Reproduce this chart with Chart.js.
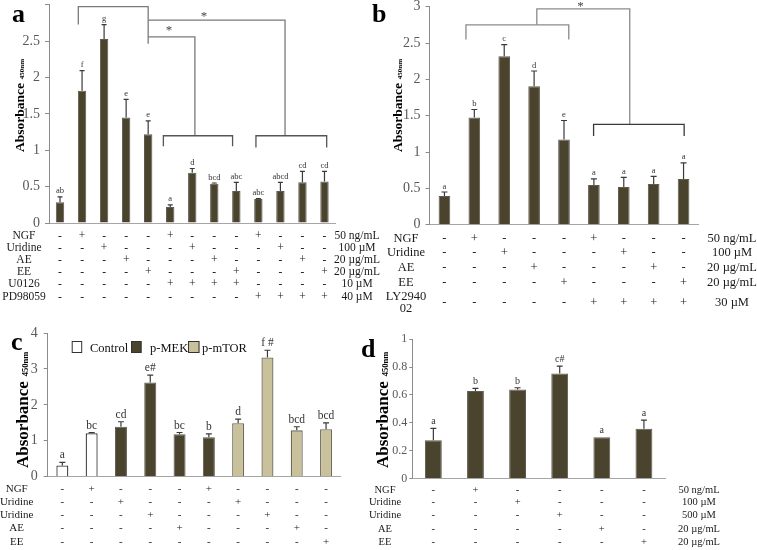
<!DOCTYPE html>
<html><head><meta charset="utf-8">
<script src="https://cdn.jsdelivr.net/npm/chart.js@4/dist/chart.umd.min.js"></script>
<style>
html,body{margin:0;padding:0;background:#fff;}
body{width:757px;height:550px;position:relative;overflow:hidden;}
.p{position:absolute;}
</style></head><body>
<div class="p" id="wa" style="left:0px;top:0px;width:380px;height:320px"><canvas id="ca"></canvas></div>
<div class="p" id="wb" style="left:365px;top:0px;width:392px;height:320px"><canvas id="cb"></canvas></div>
<div class="p" id="wc" style="left:0px;top:320px;width:355px;height:230px"><canvas id="cc"></canvas></div>
<div class="p" id="wd" style="left:355px;top:320px;width:402px;height:230px"><canvas id="cd"></canvas></div>
<script>
// ================= DATA =================
// Panel a
const aCategories = ['Control','NGF','Uridine','AE','EE','NGF+U0126','Uridine+U0126','AE+U0126','EE+U0126','NGF+PD98059','Uridine+PD98059','AE+PD98059','EE+PD98059'];
const aValues = [0.285,1.82,2.53,1.45,1.22,0.22,0.69,0.54,0.44,0.33,0.44,0.56,0.57];
const aErrors = [0.075,0.275,0.20,0.25,0.185,0.03,0.06,0.01,0.12,0.005,0.12,0.15,0.14];
const aLetters = ['ab','f','g','e','e','a','d','bcd','abc','abc','abcd','cd','cd'];
const aRowNames = ['NGF','Uridine','AE','EE','U0126','PD98059'];
const aRowUnits = ['50 ng/mL','100 \u00b5M','20 \u00b5g/mL','20 \u00b5g/mL','10 \u00b5M','40 \u00b5M'];
const aSigns = ['-+---+---+---','--+---+---+--','---+---+---+-','----+---+---+','-----++++----','---------++++'];
const aTicks = [0,0.5,1,1.5,2,2.5];

// Panel b
const bCategories = ['Control','NGF','Uridine','AE','EE','NGF+LY294002','Uridine+LY294002','AE+LY294002','EE+LY294002'];
const bValues = [0.394,1.475,2.317,1.905,1.173,0.545,0.52,0.56,0.63];
const bErrors = [0.056,0.11,0.161,0.21,0.261,0.085,0.13,0.105,0.22];
const bLetters = ['a','b','c','d','e','a','a','a','a'];
const bRowNames = ['NGF','Uridine','AE','EE','LY2940\n02'];
const bRowUnits = ['50 ng/mL','100 \u00b5M','20 \u00b5g/mL','20 \u00b5g/mL','30 \u00b5M'];
const bSigns = ['-+---+---','--+---+--','---+---+-','----+---+','-----++++'];
const bTicks = [0,0.5,1,1.5,2,2.5,3];

// Panel c
const cCategories = ['Control','NGF','Uridine 100','Uridine 500','AE','NGF ','Uridine 100 ','Uridine 500 ','AE ','EE'];
const cValues = [0.31,1.21,1.39,2.62,1.18,1.10,1.49,3.32,1.29,1.32];
const cErrors = [0.09,0.015,0.14,0.21,0.05,0.09,0.11,0.20,0.10,0.18];
const cLetters = ['a','bc','cd','e#','bc','b','d','f #','bcd','bcd'];
const cGroups = ['Control','Control','p-MEK','p-MEK','p-MEK','p-MEK','p-mTOR','p-mTOR','p-mTOR','p-mTOR'];
const cSeries = ['Control','p-MEK','p-mTOR'];
const cRowNames = ['NGF','Uridine','Uridine','AE','EE'];
const cSigns = ['-+---+----','--+---+---','---+---+--','----+---+-','---------+'];
const cTicks = [0,1,2,3,4];

// Panel d
const dCategories = ['Control','NGF','Uridine 100','Uridine 500','AE','EE'];
const dValues = [0.274,0.628,0.64,0.755,0.296,0.358];
const dErrors = [0.086,0.019,0.012,0.052,0,0.062];
const dLetters = ['a','b','b','c#','a','a'];
const dRowNames = ['NGF','Uridine','Uridine','AE','EE'];
const dRowUnits = ['50 ng/mL','100 \u00b5M','500 \u00b5M','20 \u00b5g/mL','20 \u00b5g/mL'];
const dSigns = ['-+----','--+---','---+--','----+-','-----+'];
const dTicks = [0,0.2,0.4,0.6,0.8,1];

// significance annotations: [category, value] pairs
const aBrackets = [
  [[0.83,2.73],[0.83,2.975],[4.0,2.975],[4.0,2.465]],
  [[4.0,2.79],[10.21,2.79],[10.21,1.20]],
  [[4.0,2.56],[6.12,2.56],[6.12,1.20]],
  [[4.69,1.055],[4.69,1.20],[7.83,1.20],[7.83,1.055]],
  [[8.89,1.04],[8.89,1.20],[12.1,1.20],[12.1,1.04]]
];
const aStars = [[6.53,2.86],[4.94,2.67]];
const bBrackets = [
  [[0.72,2.55],[0.72,2.75],[4.16,2.75],[4.16,2.55]],
  [[3.09,2.75],[3.09,2.97],[6.2,2.97],[6.2,1.38]],
  [[4.99,1.22],[4.99,1.38],[8.02,1.38],[8.02,1.22]]
];
const bStars = [[4.55,3.03]];

// ================= DRAWING =================
const SERIF = '"Liberation Serif","DejaVu Serif","Times New Roman",serif';
const DARK = '#4a432e', DARK_B = '#5e5a4c', TAN = '#c8c19b', TAN_B = '#6e6a5a';

const extras = {
  id: 'extras',
  afterDraw(chart, args, o) {
    const ctx = chart.ctx, xs = chart.scales.x, ys = chart.scales.y;
    const ox = o.ox, oy = o.oy;
    ctx.save();
    // brackets
    if (o.brackets) {
      ctx.lineWidth = 1.3;
      o.brackets.forEach((seg, k) => {
        ctx.strokeStyle = (o.bracketColors && o.bracketColors[k]) || '#7a7a7a';
        ctx.beginPath();
        seg.forEach((p, j) => {
          const px = xs.getPixelForValue(p[0]), py = ys.getPixelForValue(p[1]);
          if (j === 0) ctx.moveTo(px, py); else ctx.lineTo(px, py);
        });
        ctx.stroke();
      });
    }
    if (o.stars) {
      ctx.fillStyle = '#444';
      ctx.font = '13px ' + SERIF;
      ctx.textAlign = 'center'; ctx.textBaseline = 'middle';
      o.stars.forEach(s => ctx.fillText('*', xs.getPixelForValue(s[0]), ys.getPixelForValue(s[1]) + 2));
    }
    // error bars and letters
    o.values.forEach((v, i) => {
      const x = xs.getPixelForValue(i);
      const yb = ys.getPixelForValue(v);
      const e = o.errors[i];
      const yt = ys.getPixelForValue(v + e);
      ctx.strokeStyle = '#3a3a3a'; ctx.lineWidth = 1.2;
      if (e > 0.004) {
        ctx.beginPath(); ctx.moveTo(x, yb); ctx.lineTo(x, yt);
        ctx.moveTo(x - o.cap, yt); ctx.lineTo(x + o.cap, yt); ctx.stroke();
      }
      ctx.fillStyle = '#333';
      ctx.font = o.letterSize + 'px ' + SERIF;
      ctx.textAlign = 'center'; ctx.textBaseline = 'alphabetic';
      ctx.fillText(o.letters[i], x, Math.min(yt, yb) - o.letterGap);
    });
    // table
    const t = o.table;
    ctx.fillStyle = '#1a1a1a';
    ctx.font = t.size + 'px ' + SERIF;
    ctx.textBaseline = 'middle';
    t.names.forEach((nm, r) => {
      const y = t.rows[r] - oy;
      ctx.textAlign = 'center';
      const lines = nm.split('\n');
      lines.forEach((ln, k) => ctx.fillText(ln, t.leftX - ox, y + (k - (lines.length - 1) / 2) * t.size * 0.95));
      t.signs[r].split('').forEach((s, i) => {
        ctx.fillText(s === '+' ? '+' : '-', xs.getPixelForValue(i), y);
      });
      if (t.units) ctx.fillText(t.units[r], t.rightX - ox, y);
    });
    // axis title (rotated) with subscript
    const ti = o.title;
    ctx.save();
    ctx.translate(ti.x - ox, ti.y - oy);
    ctx.rotate(-Math.PI / 2);
    ctx.textAlign = 'left'; ctx.textBaseline = 'alphabetic';
    ctx.fillStyle = '#000';
    ctx.font = 'bold ' + ti.size + 'px ' + SERIF;
    ctx.fillText('Absorbance', 0, 0);
    const w = ctx.measureText('Absorbance').width;
    ctx.font = 'bold ' + ti.sub + 'px ' + SERIF;
    ctx.fillText('450nm', w + ti.size * 0.28, 0);
    ctx.restore();
    // panel letter
    ctx.fillStyle = '#000';
    ctx.font = 'bold 26px ' + SERIF;
    ctx.textAlign = 'left'; ctx.textBaseline = 'alphabetic';
    ctx.fillText(o.panel.text, o.panel.x - ox, o.panel.y - oy);
    // legend
    if (o.legend) {
      ctx.font = o.legend.size + 'px ' + SERIF;
      ctx.textBaseline = 'alphabetic';
      chart.data.datasets.forEach((ds, k) => {
        const L = o.legend.items[k];
        ctx.fillStyle = ds.backgroundColor; ctx.strokeStyle = '#333'; ctx.lineWidth = 1;
        ctx.fillRect(L.bx - ox, L.by - oy, L.bw, L.bh);
        ctx.strokeRect(L.bx - ox + 0.5, L.by - oy + 0.5, L.bw - 1, L.bh - 1);
        ctx.fillStyle = '#111'; ctx.textAlign = 'left';
        ctx.fillText(ds.label, L.tx - ox, L.ty - oy);
      });
    }
    ctx.restore();
  }
};

function yAxis(max, step, size, yW, tickLen, pad, hideTop) {
  return {
    min: 0, max: max,
    ticks: { stepSize: step, color: '#595959', font: { family: SERIF, size: size }, padding: pad,
      callback: (v) => (hideTop && v === max) ? '' : String(Math.round(v * 10) / 10) },
    grid: { display: true, drawOnChartArea: false, drawTicks: true, tickLength: tickLen, color: '#8c8c8c' },
    border: { display: true, color: '#8c8c8c', width: 1 },
    afterFit: (s) => { s.width = yW; s.paddingTop = 0; s.paddingBottom = 0; }
  };
}
function xAxis() {
  return {
    type: 'category', offset: true,
    ticks: { display: false },
    grid: { display: true, drawOnChartArea: false, drawTicks: false, color: 'rgba(0,0,0,0)' },
    border: { display: true, color: '#a6a6a6', width: 1 },
    afterFit: (s) => { s.height = 0; s.paddingLeft = 0; s.paddingRight = 0; }
  };
}
function make(id, datasets, labels, yopt, pad, ext, barPct) {
  return new Chart(document.getElementById(id), {
    type: 'bar',
    data: { labels: labels, datasets: datasets },
    options: {
      responsive: true, maintainAspectRatio: false, animation: false, devicePixelRatio: 1,
      layout: { padding: pad },
      datasets: { bar: { barPercentage: barPct, categoryPercentage: 1, grouped: false, borderWidth: 1 } },
      scales: { x: xAxis(), y: yopt },
      plugins: { legend: { display: false }, tooltip: { enabled: false }, extras: ext }
    },
    plugins: [extras]
  });
}

// Panel a
make('ca',
  [{ label: 'Absorbance', data: aValues, backgroundColor: DARK, borderColor: DARK_B }],
  aCategories, yAxis(3, 0.5, 14, 40, 4, 5, true),
  { left: 9, right: 44.5, top: 4.9, bottom: 97 },
  { ox: 0, oy: 0, values: aValues, errors: aErrors, letters: aLetters, letterSize: 8.5, letterGap: 3.5, cap: 2.5,
    brackets: aBrackets, bracketColors: ['#7a7a7a','#7a7a7a','#7a7a7a','#555','#555'], stars: aStars,
    table: { names: aRowNames, units: aRowUnits, signs: aSigns, rows: [235.7,247.6,259.5,271.7,284,296.5], leftX: 24, rightX: 357, size: 11.5 },
    title: { x: 23.5, y: 152, size: 13.5, sub: 7 },
    panel: { text: 'a', x: 12, y: 22 } },
  0.38);

// Panel b
make('cb',
  [{ label: 'Absorbance', data: bValues, backgroundColor: DARK, borderColor: DARK_B }],
  bCategories, yAxis(3, 0.5, 14, 40, 4, 5, false),
  { left: 24.5, right: 58.5, top: 6.7, bottom: 95.3 },
  { ox: 365, oy: 0, values: bValues, errors: bErrors, letters: bLetters, letterSize: 8.5, letterGap: 3.5, cap: 3,
    brackets: bBrackets, bracketColors: ['#8a8a8a','#8a8a8a','#3a3a3a'], stars: bStars,
    table: { names: bRowNames, units: bRowUnits, signs: bSigns, rows: [238.3,253,267.5,282.3,302.3], leftX: 406, rightX: 732, size: 12.5 },
    title: { x: 402, y: 152, size: 13.5, sub: 7 },
    panel: { text: 'b', x: 372, y: 22 } },
  0.39);

// Panel c
const cColors = { 'Control': '#ffffff', 'p-MEK': DARK, 'p-mTOR': TAN };
const cBorders = { 'Control': '#3a3a3a', 'p-MEK': DARK_B, 'p-mTOR': TAN_B };
make('cc',
  cSeries.map(g => ({ label: g, data: cValues.map((v, i) => cGroups[i] === g ? v : null), backgroundColor: cColors[g], borderColor: cBorders[g], borderWidth: g === 'p-MEK' ? 1 : 1.3 })),
  cCategories, yAxis(4, 1, 14, 40, 4, 6, false),
  { left: 7.7, right: 14.3, top: 13, bottom: 73.3 },
  { ox: 0, oy: 320, values: cValues, errors: cErrors, letters: cLetters, letterSize: 11.5, letterGap: 4, cap: 3,
    table: { names: cRowNames, signs: cSigns, rows: [489.3,502.3,515,528.3,541.7], leftX: 16.7, size: 11 },
    title: { x: 28, y: 468, size: 17, sub: 8.5 },
    panel: { text: 'c', x: 11, y: 350 },
    legend: { size: 12.5, items: [
      { bx: 71.7, by: 341, bw: 10.5, bh: 12, tx: 90, ty: 351.5 },
      { bx: 131, by: 341, bw: 10.5, bh: 12, tx: 150, ty: 351.5 },
      { bx: 188, by: 341, bw: 11.5, bh: 12, tx: 202, ty: 351.5 } ] } },
  0.41);

// Panel d
make('cd',
  [{ label: 'Absorbance', data: dValues, backgroundColor: DARK, borderColor: DARK_B }],
  dCategories, yAxis(1, 0.2, 12, 40, 3, 2, false),
  { left: 17.3, right: 92, top: 19.3, bottom: 71.5 },
  { ox: 355, oy: 320, values: dValues, errors: dErrors, letters: dLetters, letterSize: 10, letterGap: 4, cap: 3,
    table: { names: dRowNames, units: dRowUnits, signs: dSigns, rows: [490.7,502.7,515.3,529,542.5], leftX: 385, rightX: 699, size: 10.5 },
    title: { x: 388, y: 468, size: 17, sub: 8.5 },
    panel: { text: 'd', x: 361, y: 356.5 } },
  0.40);
</script>
</body></html>
